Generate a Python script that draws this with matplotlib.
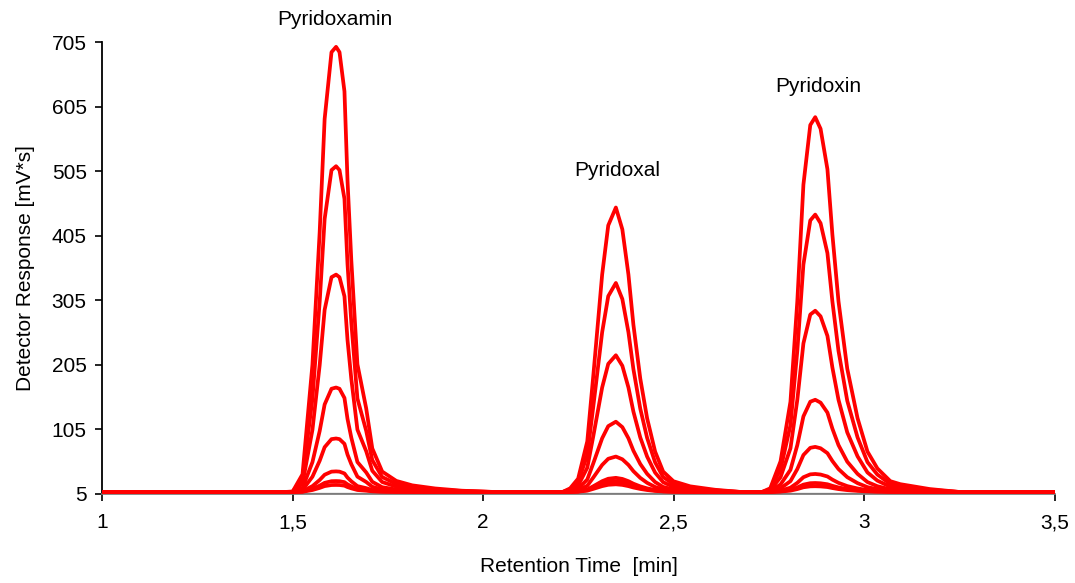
import numpy as np
import matplotlib.pyplot as plt

plt.rcParams['font.family'] = ['Liberation Sans', 'DejaVu Sans']

# retention time of each peak apex [min]
peak_names = ["Pyridoxamin", "Pyridoxal", "Pyridoxin"]
peak_centers = [1.614, 2.348, 2.871]

# peak shapes (offset from apex [min], relative height)
pm_offsets = [-0.14, -0.114, -0.088, -0.062, -0.043, -0.030, -0.012, 0.0, 0.009, 0.022, 0.030,
              0.040, 0.056, 0.079, 0.095, 0.121, 0.158, 0.20, 0.26, 0.33, 0.42]
pm_profile = [0.0, 0.001, 0.040, 0.286, 0.584, 0.838, 0.988, 1.0, 0.988, 0.90, 0.70,
              0.52, 0.287, 0.188, 0.098, 0.046, 0.025, 0.015, 0.008, 0.003, 0.0]

pl_offsets = [-0.14, -0.120, -0.099, -0.075, -0.059, -0.036, -0.020, 0.0, 0.017, 0.033, 0.046,
              0.064, 0.082, 0.103, 0.124, 0.151, 0.195, 0.26, 0.33]
pl_profile = [0.0, 0.013, 0.047, 0.178, 0.412, 0.764, 0.937, 1.0, 0.923, 0.764, 0.588,
              0.399, 0.259, 0.142, 0.072, 0.038, 0.020, 0.008, 0.0]

pn_offsets = [-0.14, -0.118, -0.091, -0.065, -0.047, -0.031, -0.013, 0.0, 0.014, 0.032, 0.045,
              0.061, 0.084, 0.111, 0.137, 0.163, 0.197, 0.223, 0.30, 0.38]
pn_profile = [0.0, 0.010, 0.082, 0.241, 0.509, 0.820, 0.979, 1.0, 0.969, 0.861, 0.687,
              0.509, 0.329, 0.197, 0.108, 0.063, 0.029, 0.021, 0.008, 0.0]

# peak heights above baseline for each calibration level [mV*s]
pm_heights = [690, 505, 337, 162, 83, 32, 17, 11]
pl_heights = [441, 324, 212, 109, 55, 22, 17, 12]
pn_heights = [581, 430, 281, 143, 70, 28, 14, 9]

baseline = 8.0
blank_level = 5.5

x_start, x_end = 1.0, 3.5
y_ticks = [5, 105, 205, 305, 405, 505, 605, 705]
x_ticks = [1, 1.5, 2, 2.5, 3, 3.5]
x_ticklabels = ["1", "1,5", "2", "2,5", "3", "3,5"]

label_pos = [(1.611, 740), (2.351, 507), (2.878, 636)]

fig = plt.figure(figsize=(10.75, 5.83), dpi=100)
ax = fig.add_axes([0.0949, 0.1527, 0.8865, 0.7747])

# blank run
ax.plot([x_start, x_end], [blank_level, blank_level], color='#606060', lw=1.6, zorder=1)

shapes = [(pm_offsets, pm_profile, pm_heights),
          (pl_offsets, pl_profile, pl_heights),
          (pn_offsets, pn_profile, pn_heights)]

for lvl in range(len(pm_heights)):
    xs = [x_start]
    ys = [baseline]
    for c, (offs, prof, hts) in zip(peak_centers, shapes):
        for o, p in zip(offs, prof):
            xs.append(c + o)
            ys.append(baseline + hts[lvl] * p)
    xs.append(x_end)
    ys.append(baseline)
    ax.plot(xs, ys, color='#ff0000', lw=2.7, zorder=2 + lvl, solid_joinstyle='round')

for name, (lx, ly) in zip(peak_names, label_pos):
    ax.text(lx, ly, name, ha='center', va='center', fontsize=15, clip_on=False)

ax.set_xlim(x_start, x_end)
ax.set_ylim(5, 705)
ax.set_yticks(y_ticks)
ax.set_xticks(x_ticks)
ax.set_xticklabels(x_ticklabels)
ax.tick_params(labelsize=15, direction='out', length=5, width=1.2, pad=6)
ax.tick_params(axis='x', pad=9)
ax.spines['top'].set_visible(False)
ax.spines['right'].set_visible(False)
ax.spines['left'].set_linewidth(1.3)
ax.spines['bottom'].set_linewidth(1.3)
ax.spines['bottom'].set_color('#808080')

ax.set_xlabel("Retention Time  [min]", fontsize=15, labelpad=18)
ax.set_ylabel("Detector Response [mV*s]", fontsize=15, labelpad=12)

fig.savefig("out.png", dpi=100)
